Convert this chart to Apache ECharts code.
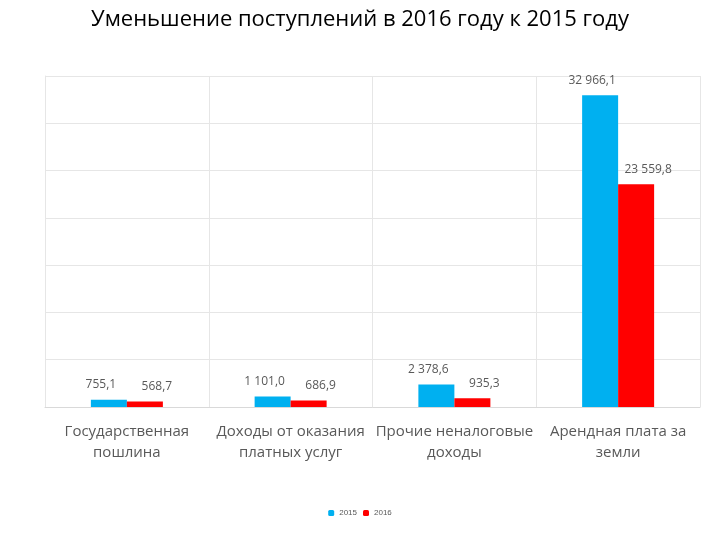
<!DOCTYPE html>
<html><head><meta charset="utf-8">
<script src="https://cdn.jsdelivr.net/npm/echarts@6/dist/echarts.min.js"></script>
<style>body{margin:0}#c{width:720px;height:540px}</style></head>
<body><div id="c"></div>
<script>
const categories = ['Государственная\nпошлина','Доходы от оказания\nплатных услуг','Прочие неналоговые\nдоходы','Арендная плата за\nземли'];
const values2015 = [755.1, 1101.0, 2378.6, 32966.1];
const values2016 = [568.7, 686.9, 935.3, 23559.8];
const seriesNames = ['2015','2016'];
const fmt = v => { const s = v.toFixed(1).split('.'); return s[0].replace(/\B(?=(\d{3})+(?!\d))/g,' ') + ',' + s[1]; };
const chart = echarts.init(document.getElementById('c'));
const lbl = (dx) => ({show:true, position:'top', distance:9, offset:[dx,0], color:'#595959', fontSize:12, fontFamily:'Open Sans', formatter:p=>fmt(p.value)});
chart.setOption({
  title:{text:'Уменьшение поступлений в 2016 году к 2015 году', left:'center', top:4, textStyle:{fontFamily:'Open Sans', fontWeight:'normal', fontSize:22, color:'#000'}},
  legend:{bottom:18, left:'center', itemWidth:6, itemHeight:6, itemGap:6, textStyle:{fontSize:8, color:'#595959'}, data:seriesNames},
  grid:{left:45, right:20, top:76, bottom:133},
  xAxis:{type:'category', data:categories, axisTick:{show:false}, axisLine:{lineStyle:{color:'#d9d9d9'}},
    splitLine:{show:true, interval:0, lineStyle:{color:'#e6e6e6'}},
    axisLabel:{interval:0, color:'#595959', fontSize:15, fontFamily:'Open Sans', lineHeight:21, margin:14}},
  yAxis:{type:'value', min:0, max:35000, interval:5000, axisLabel:{show:false}, axisLine:{show:true, lineStyle:{color:'#e6e6e6'}}, splitLine:{lineStyle:{color:'#e6e6e6'}}},
  series:[
    {name:'2015', type:'bar', data:values2015, barWidth:36, barGap:'0%', itemStyle:{color:'#00b0f0'}, label:lbl(-8)},
    {name:'2016', type:'bar', data:values2016, barWidth:36, itemStyle:{color:'#ff0000'}, label:lbl(12)}
  ]
});
</script></body></html>
